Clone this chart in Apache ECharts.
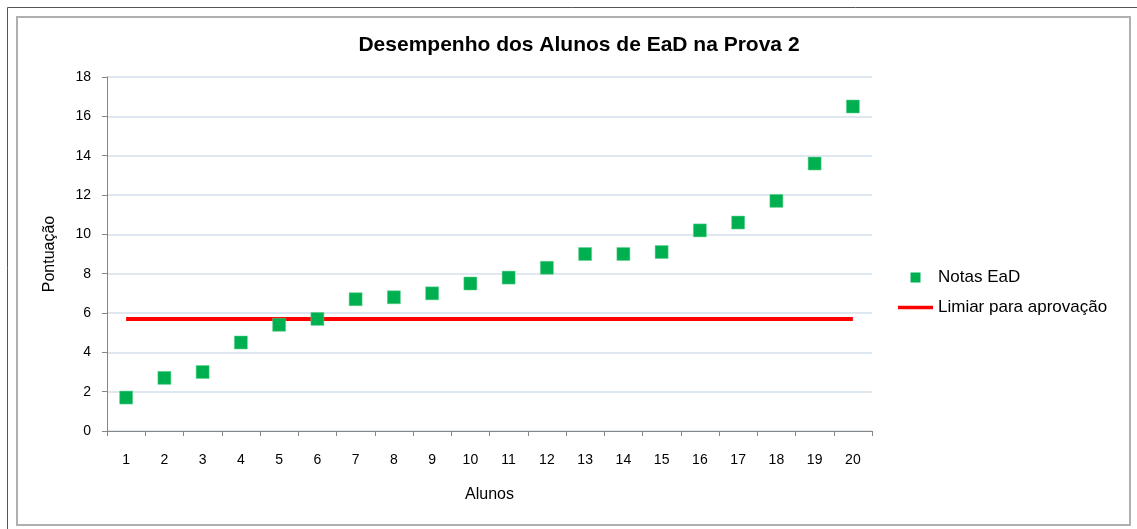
<!DOCTYPE html>
<html>
<head>
<meta charset="utf-8">
<script src="https://cdn.jsdelivr.net/npm/echarts@6/dist/echarts.min.js"></script>
<style>
  html, body { margin: 0; padding: 0; background: #fff; }
  #chart { width: 1137px; height: 529px; }
</style>
</head>
<body>
<div id="chart"></div>
<script>
// dados
const alunos = ['1', '2', '3', '4', '5', '6', '7', '8', '9', '10',
  '11', '12', '13', '14', '15', '16', '17', '18', '19', '20']
const notasEaD = [1.7, 2.7, 3.0, 4.5, 5.4, 5.7, 6.7, 6.8, 7.0, 7.5,
  7.8, 8.3, 9.0, 9.0, 9.1, 10.2, 10.6, 11.7, 13.6, 16.5]
const limiar = alunos.map(() => 5.7)

const font = 'Liberation Sans, Arial, sans-serif'

const chart = echarts.init(document.getElementById('chart'))

const option = {
  animation: false,
  graphic: [
    {
      type: 'rect',
      shape: { x: 7.5, y: 7.5, width: 1140, height: 530 },
      style: { fill: 'none', stroke: '#555', lineWidth: 1 },
      silent: true
    },
    {
      type: 'rect',
      shape: { x: 17, y: 17, width: 1113, height: 508 },
      style: { fill: 'none', stroke: '#b0b0b0', lineWidth: 2 },
      silent: true
    }
  ],
  title: {
    text: 'Desempenho dos Alunos de EaD na Prova 2',
    left: 574,
    textAlign: 'center',
    top: 30,
    textStyle: { fontFamily: font, fontSize: 21, fontWeight: 'bold', color: '#000' }
  },
  legend: {
    orient: 'vertical',
    left: 893,
    top: 264,
    itemWidth: 35,
    itemHeight: 10,
    itemGap: 13,
    textStyle: { fontFamily: font, fontSize: 17, color: '#000' },
    data: [
      { name: 'Notas EaD', icon: 'path://M0,0H10V10H0Z', itemStyle: { color: '#00b050', borderWidth: 0 } },
      { name: 'Limiar para aprovação', icon: 'path://M0,0H35V3.5H0Z' }
    ]
  },
  grid: {
    left: 107,
    right: 265,
    top: 77,
    bottom: 98
  },
  xAxis: {
    type: 'category',
    data: alunos,
    boundaryGap: true,
    name: 'Alunos',
    nameLocation: 'middle',
    nameGap: 56,
    nameTextStyle: { fontFamily: font, fontSize: 16, color: '#000' },
    axisLine: { lineStyle: { color: '#868686', width: 1 } },
    axisTick: { show: true, length: 5, lineStyle: { color: '#868686' } },
    axisLabel: { fontFamily: font, fontSize: 14, color: '#000', margin: 22 }
  },
  yAxis: {
    type: 'value',
    min: 0,
    max: 18,
    interval: 2,
    name: 'Pontuação',
    nameLocation: 'middle',
    nameGap: 49,
    nameTextStyle: { fontFamily: font, fontSize: 16, color: '#000' },
    axisLine: { show: true, lineStyle: { color: '#868686', width: 1 } },
    axisTick: { show: true, length: 5, lineStyle: { color: '#868686' } },
    axisLabel: { fontFamily: font, fontSize: 14, color: '#000', margin: 16 },
    splitLine: { lineStyle: { color: '#d5dfec', width: 1.5 } }
  },
  series: [
    {
      name: 'Limiar para aprovação',
      type: 'line',
      data: limiar,
      symbol: 'none',
      showSymbol: false,
      z: 2,
      itemStyle: { color: '#ff0000' },
      lineStyle: { color: '#ff0000', width: 4 }
    },
    {
      name: 'Notas EaD',
      type: 'scatter',
      data: notasEaD,
      symbol: 'rect',
      symbolSize: 13,
      z: 3,
      itemStyle: { color: '#00b050', opacity: 1, borderColor: '#5fd08f', borderWidth: 0.5 }
    }
  ]
}

chart.setOption(option)
</script>
</body>
</html>
